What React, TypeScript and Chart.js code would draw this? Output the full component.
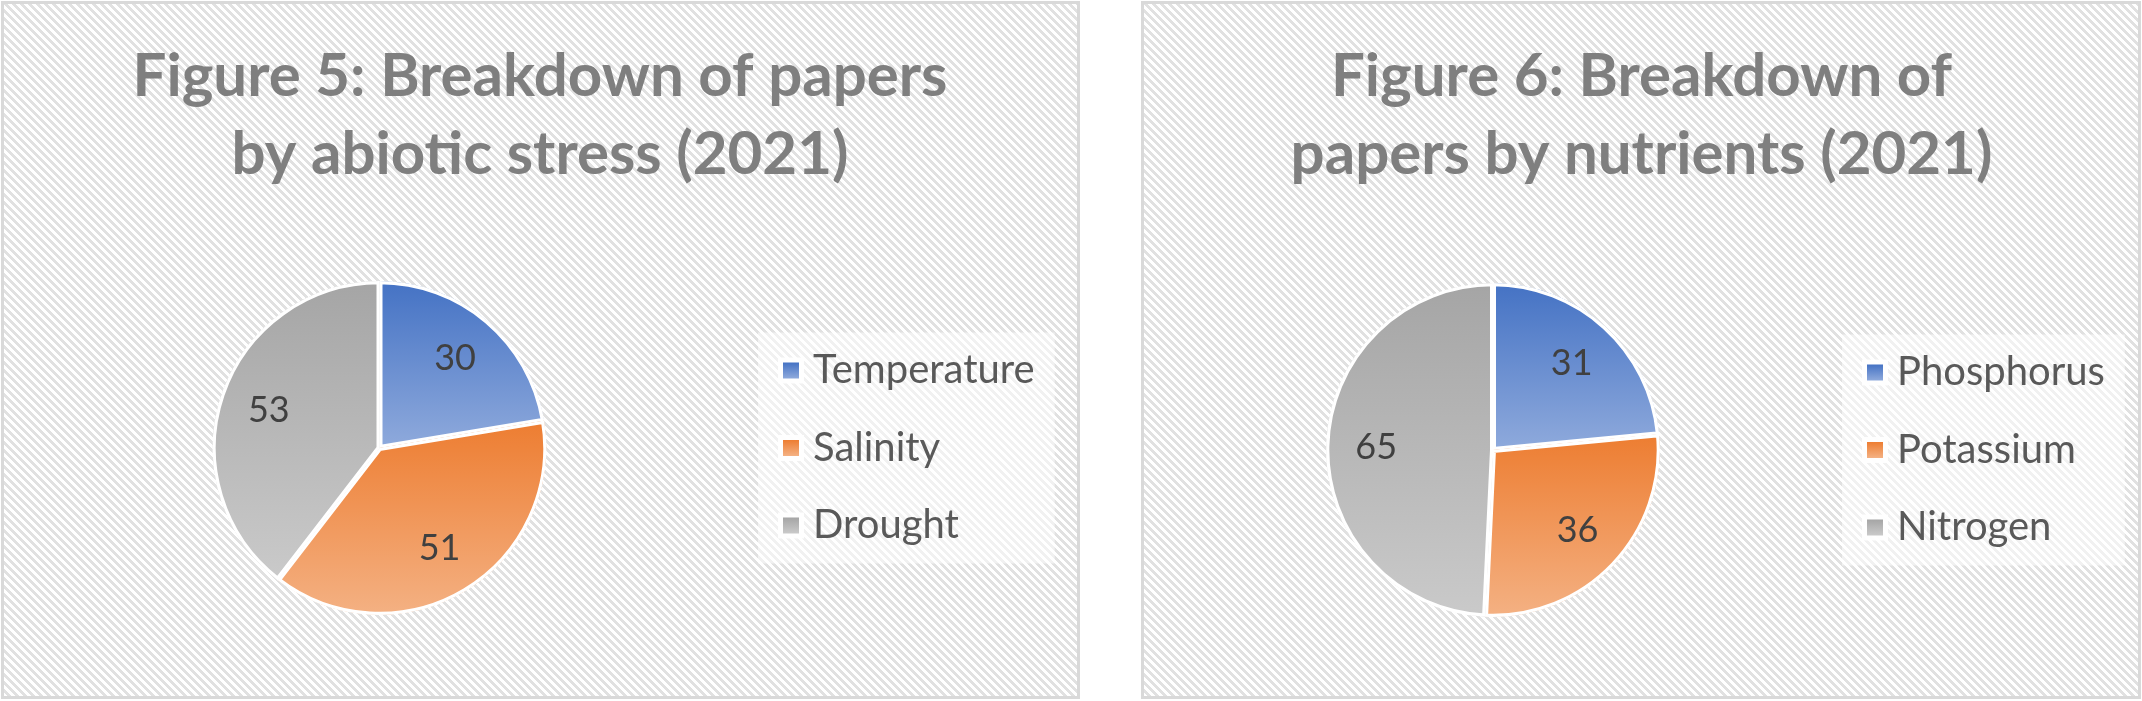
import React, { useEffect, useRef } from 'react';
import { Chart, registerables } from 'chart.js';

Chart.register(...registerables);

// ---------- data ----------
const stressCategories = ['Temperature', 'Salinity', 'Drought'];
const stressValues = [30, 51, 53];
const stressTitle = ['Figure 5: Breakdown of papers', 'by abiotic stress (2021)'];

const nutrientCategories = ['Phosphorus', 'Potassium', 'Nitrogen'];
const nutrientValues = [31, 36, 65];
const nutrientTitle = ['Figure 6: Breakdown of', 'papers by nutrients (2021)'];

// ---------- styles ----------
const sliceGradients = [
  ['#4472C4', '#8FAADC'],
  ['#ED7D31', '#F4B183'],
  ['#A5A5A5', '#CACACA'],
];
const FONT = 'Lato';
const TITLE_SIZE = 60;
const LEGEND_SIZE = 40;
const LEGEND_PAD = 37.5;
const LABEL_SIZE = 36;
const BOX = 16;
const BOX_SLOT = 10; // legend slot width so that text starts 30px after the drawn box

let patternCanvas: HTMLCanvasElement | null = null;
function getPattern(ctx: CanvasRenderingContext2D) {
  if (!patternCanvas) {
    patternCanvas = document.createElement('canvas');
    patternCanvas.width = 8;
    patternCanvas.height = 8;
    const p = patternCanvas.getContext('2d')!;
    p.fillStyle = '#ffffff';
    p.fillRect(0, 0, 8, 8);
    p.fillStyle = '#e1e1e1';
    for (let y = 0; y < 8; y++) {
      for (let x = 0; x < 8; x++) {
        if ((((x - y) % 8) + 8) % 8 < 4) p.fillRect(x, y, 1, 1);
      }
    }
  }
  return ctx.createPattern(patternCanvas, 'repeat')!;
}

function sliceYRange(values: number[], index: number, cy: number, r: number) {
  const total = values.reduce((a, b) => a + b, 0);
  let before = 0;
  for (let i = 0; i < index; i++) before += values[i];
  const a0 = -Math.PI / 2 + (2 * Math.PI * before) / total;
  const a1 = a0 + (2 * Math.PI * values[index]) / total;
  const ys = [cy, cy + r * Math.sin(a0), cy + r * Math.sin(a1)];
  for (let k = -3; k <= 5; k++) {
    const ang = Math.PI / 2 + k * Math.PI;
    if (ang >= a0 && ang <= a1) ys.push(cy + r * Math.sin(ang));
  }
  return [Math.min(...ys), Math.max(...ys)];
}

function sliceFill(c: any) {
  const i = c.dataIndex ?? 0;
  const chart = c.chart;
  const area = chart.chartArea;
  if (!area) return sliceGradients[i % 3][0];
  const values = chart.data.datasets[0].data as number[];
  const cy = (area.top + area.bottom) / 2;
  const r = Math.min(area.width, area.height) / 2;
  const [y0, y1] = sliceYRange(values, i, cy, r);
  const g = chart.ctx.createLinearGradient(0, y0, 0, Math.max(y1, y0 + 1));
  g.addColorStop(0, sliceGradients[i % 3][0]);
  g.addColorStop(1, sliceGradients[i % 3][1]);
  return g;
}

const legendWidthPlugin = {
  id: 'legendWidth',
  afterInit(chart: any, _args: any, opts: any) {
    const lg = chart.legend;
    if (lg && !lg.__fixed) {
      const orig = lg.fit.bind(lg);
      lg.fit = function () {
        orig();
        this.width = opts.width;
      };
      lg.__fixed = true;
    }
  },
};

const decorPlugin = {
  id: 'decor',
  beforeDraw(chart: any) {
    const { ctx, width, height } = chart;
    ctx.save();
    ctx.fillStyle = getPattern(ctx);
    ctx.fillRect(0, 0, width, height);
    const lg = chart.legend;
    const hbs = lg && lg.legendHitBoxes;
    if (hbs && hbs.length) {
      const off = Math.max((LEGEND_SIZE - BOX) / 2, 0);
      const left = Math.min(...hbs.map((h: any) => h.left));
      const right = Math.max(...hbs.map((h: any) => h.left + h.width));
      const top = hbs[0].top;
      const last = hbs[hbs.length - 1];
      ctx.fillStyle = 'rgba(255,255,255,0.55)';
      ctx.fillRect(left - 25, top - 18, right - left + 45, last.top + last.height - top + 36);
      hbs.forEach((h: any, i: number) => {
        const bx = h.left;
        const by = h.top + off;
        ctx.fillStyle = 'rgba(255,255,255,0.9)';
        ctx.fillRect(bx - 5, by - 5, BOX + 10, BOX + 10);
        const g = ctx.createLinearGradient(0, by, 0, by + BOX);
        g.addColorStop(0, sliceGradients[i % 3][0]);
        g.addColorStop(1, sliceGradients[i % 3][1]);
        ctx.fillStyle = g;
        ctx.fillRect(bx, by, BOX, BOX);
        const item = lg.legendItems[i];
        if (item) {
          item.fillStyle = 'rgba(0,0,0,0)';
          item.lineWidth = 0;
          item.strokeStyle = 'rgba(0,0,0,0)';
        }
      });
    }
    ctx.restore();
  },
};

const valueLabelPlugin = {
  id: 'valueLabels',
  afterDatasetsDraw(chart: any) {
    const { ctx } = chart;
    const meta = chart.getDatasetMeta(0);
    const data = chart.data.datasets[0].data as number[];
    ctx.save();
    ctx.font = `${LABEL_SIZE}px ${FONT}`;
    ctx.fillStyle = '#404040';
    ctx.textAlign = 'center';
    ctx.textBaseline = 'middle';
    meta.data.forEach((arc: any, i: number) => {
      const { x, y, startAngle, endAngle, outerRadius } = arc.getProps(
        ['x', 'y', 'startAngle', 'endAngle', 'outerRadius'],
        true
      );
      const mid = (startAngle + endAngle) / 2;
      const rr = outerRadius * 0.7;
      ctx.fillText(String(data[i]), x + Math.cos(mid) * rr, y + Math.sin(mid) * rr);
    });
    ctx.restore();
  },
};

type Cfg = {
  w: number;
  h: number;
  padL: number;
  padR: number;
  padB: number;
  titleTop: number;
  titleBottom: number;
  legendWidth: number;
};

function PieChart({ labels, values, title, cfg }: { labels: string[]; values: number[]; title: string[]; cfg: Cfg }) {
  const ref = useRef<HTMLCanvasElement>(null);
  useEffect(() => {
    const chart = new Chart(ref.current!, {
      type: 'pie',
      data: {
        labels,
        datasets: [
          {
            data: values,
            backgroundColor: sliceFill as any,
            borderColor: '#ffffff',
            borderWidth: 3,
            borderAlign: 'inner',
            hoverOffset: 0,
          } as any,
        ],
      },
      options: {
        responsive: false,
        animation: false,
        devicePixelRatio: 1,
        events: [],
        layout: { padding: { left: cfg.padL, right: cfg.padR, top: 0, bottom: cfg.padB } },
        plugins: {
          tooltip: { enabled: false },
          title: {
            display: true,
            text: title,
            color: '#7f7f7f',
            fullSize: true,
            font: { family: FONT, weight: 'bold', size: TITLE_SIZE, lineHeight: '78px' },
            padding: { top: cfg.titleTop, bottom: cfg.titleBottom },
          },
          legend: {
            display: true,
            position: 'right',
            align: 'center',
            fullSize: false,
            labels: {
              boxWidth: BOX_SLOT,
              boxHeight: BOX,
              padding: LEGEND_PAD,
              color: '#595959',
              font: { family: FONT, size: LEGEND_SIZE },
            },
          },
          legendWidth: { width: cfg.legendWidth },
        } as any,
      },
      plugins: [legendWidthPlugin, decorPlugin, valueLabelPlugin] as any,
    });
    return () => chart.destroy();
  }, []);
  return <canvas ref={ref} width={cfg.w} height={cfg.h} style={{ display: 'block', width: cfg.w, height: cfg.h }} />;
}

const panelStyle = (left: number, width: number): React.CSSProperties => ({
  position: 'absolute',
  left,
  top: 1,
  width,
  height: 698,
  border: '3px solid #d9d9d9',
  boxSizing: 'border-box',
  background: '#fff',
});

export default function App() {
  return (
    <div style={{ position: 'absolute', left: 0, top: 0, width: 2142, height: 701, background: '#ffffff' }}>
      <div style={panelStyle(1, 1079)}>
        <PieChart
          labels={stressCategories}
          values={stressValues}
          title={stressTitle}
          cfg={{ w: 1073, h: 692, padL: 9.5, padR: 10.5, padB: 81, titleTop: 34, titleBottom: 87, legendWidth: 321 }}
        />
      </div>
      <div style={panelStyle(1141, 1000)}>
        <PieChart
          labels={nutrientCategories}
          values={nutrientValues}
          title={nutrientTitle}
          cfg={{ w: 994, h: 692, padL: 12.5, padR: 11.5, padB: 79, titleTop: 34, titleBottom: 89, legendWidth: 297 }}
        />
      </div>
    </div>
  );
}
